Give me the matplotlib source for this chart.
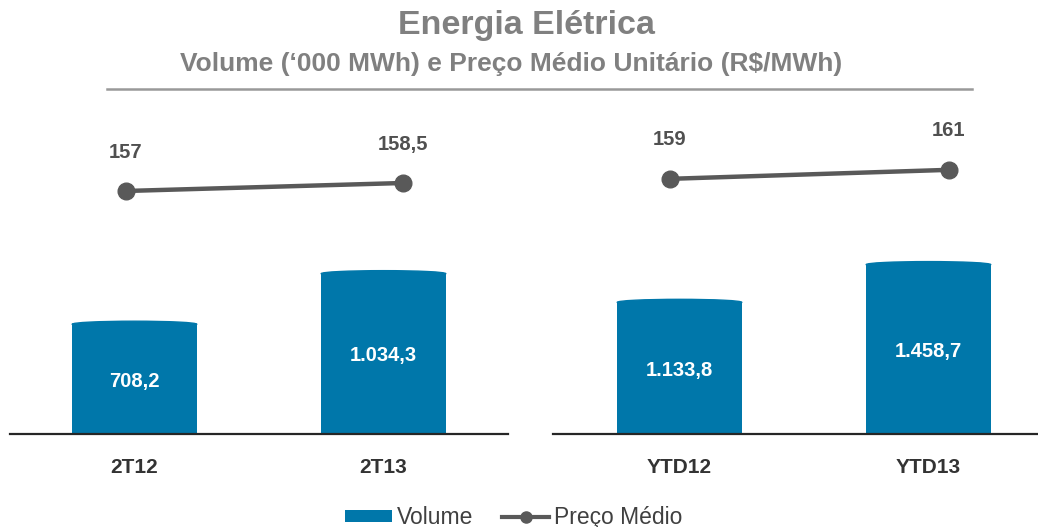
import numpy as np
import matplotlib
matplotlib.use("Agg")
import matplotlib.pyplot as plt
from matplotlib.patches import Patch, Ellipse
from matplotlib.lines import Line2D

plt.rcParams['font.family'] = ['Liberation Sans', 'DejaVu Sans']

# dados
periodos_tri = ["2T12", "2T13"]
volume_tri = [708.2, 1034.3]
preco_tri = [157, 158.5]

periodos_ytd = ["YTD12", "YTD13"]
volume_ytd = [1133.8, 1458.7]
preco_ytd = [159, 161]

azul = "#0077AA"
cinza_linha = "#595959"
cinza_texto = "#808080"
escuro = "#333333"


def fmt_br(v):
    # 1034.3 -> "1.034,3" ; 157 -> "157"
    if float(v).is_integer():
        s = "{:,.0f}".format(v)
    else:
        s = "{:,.1f}".format(v)
    return s.replace(",", "X").replace(".", ",").replace("X", ".")


fig = plt.figure(figsize=(10.38, 5.27), dpi=100)

# (left, width), ylim barras, xlim linha, ylim linha, xlim barras
paineis = [
    (periodos_tri, volume_tri, preco_tri, 0.0096, 0.4798, 2090, (-0.419, 1.379), (111.4, 172.2), (-0.5, 1.5)),
    (periodos_ytd, volume_ytd, preco_ytd, 0.5328, 0.4672, 2790, (-0.419, 1.319), (102.3, 174.3), (-0.508, 1.44)),
]

for i, (cats, vol, preco, left, width, ytop, lx, ly, bx) in enumerate(paineis):
    rect = [left, 0.1765, width, 0.6148]
    ax = fig.add_axes(rect, label="barras%d" % i)
    x = np.arange(len(cats))
    ax.bar(x, vol, width=0.5, color=azul, zorder=2)
    ax.set_xlim(*bx)
    ax.set_ylim(0, ytop)
    # topo levemente arredondado
    px_per_unit = ax.transData.transform((0, 1))[1] - ax.transData.transform((0, 0))[1]
    for xi, v in zip(x, vol):
        ax.add_patch(Ellipse((xi, v), 0.5, 6 / px_per_unit, color=azul, zorder=2))
        ax.text(xi, v / 2, fmt_br(v), ha="center", va="center_baseline", color="white",
                fontsize=14.5, fontweight="bold", zorder=3)
    for s in ["left", "right", "top"]:
        ax.spines[s].set_visible(False)
    ax.spines["bottom"].set_color("#262626")
    ax.spines["bottom"].set_linewidth(1.6)
    ax.set_yticks([])
    ax.set_xticks(x)
    ax.set_xticklabels(cats, fontsize=15, fontweight="bold", color=escuro)
    ax.tick_params(axis="x", length=0, pad=17)

    ax2 = fig.add_axes(rect, label="linha%d" % i)
    ax2.set_xlim(*lx)
    ax2.set_ylim(*ly)
    ax2.plot(x, preco, color=cinza_linha, lw=3.2, marker="o", ms=12, zorder=4)
    for xi, p in zip(x, preco):
        ax2.annotate(fmt_br(p), (xi, p), xytext=(0, 28), textcoords="offset points",
                     ha="center", va="center", fontsize=14.5, fontweight="bold", color="#505050")
    ax2.axis("off")

fig.text(0.507, 0.951, "Energia Elétrica", ha="center", va="center",
         fontsize=24.5, fontweight="bold", color=cinza_texto)
fig.text(0.492, 0.879, "Volume (‘000 MWh) e Preço Médio Unitário (R$/MWh)", ha="center", va="center",
         fontsize=19, fontweight="bold", color=cinza_texto)
fig.add_artist(Line2D([107 / 1038, 972 / 1038], [1 - 89 / 527, 1 - 89 / 527],
                      transform=fig.transFigure, color="#999999", lw=1.8))

handles = [Patch(facecolor=azul, edgecolor="none"),
           Line2D([], [], color=cinza_linha, lw=3, marker="o", ms=8)]
fig.legend(handles, ["Volume", "Preço Médio"], loc="center", bbox_to_anchor=(0.495, 0.018),
           ncol=2, frameon=False, fontsize=16.5, handlelength=2.05, handleheight=0.45,
           columnspacing=1.26, handletextpad=0.2, labelcolor="#404040",
           borderpad=0, borderaxespad=0)

fig.savefig("out.png", dpi=100)
